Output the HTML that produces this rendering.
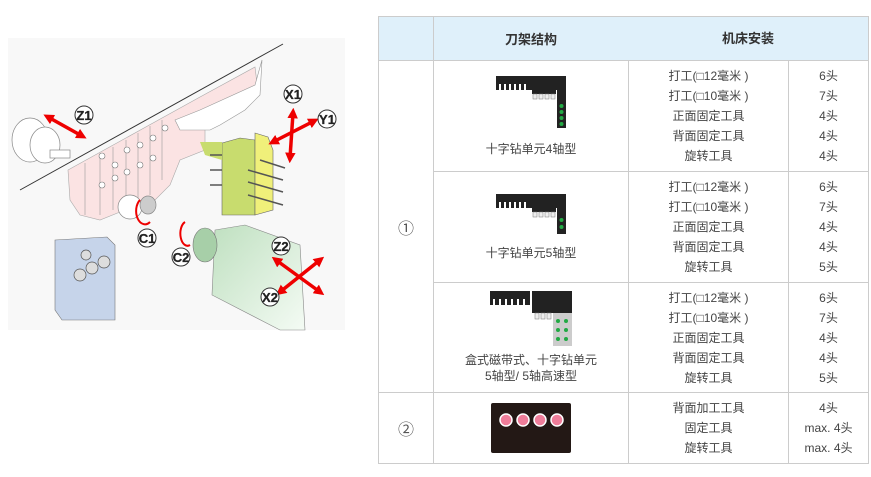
<!DOCTYPE html>
<html><head><meta charset="utf-8"><style>
body{margin:0;width:871px;height:477px;background:#fff;position:relative;overflow:hidden;font-family:"Liberation Sans","Noto Sans CJK SC",sans-serif;color:#444;}
table{position:absolute;left:378px;top:16px;border-collapse:collapse;font-size:12px;}
td,th{border:1px solid #ccc;text-align:center;padding:0;}
th{background:#dff0fa;font-weight:bold;color:#333;font-size:13px;height:43px;}
.l{line-height:20px;}
.n{font-size:16px;color:#555;}
</style></head><body>
<svg width="350" height="340" style="position:absolute;left:0;top:20px" viewBox="0 20 350 340">
<defs>
<marker id="a" viewBox="0 0 10 10" refX="5" refY="5" markerWidth="3" markerHeight="3" orient="auto-start-reverse"><path d="M0,0 L10,5 L0,10z" fill="#e00"/></marker>
<linearGradient id="g" x1="0" x2="1" y1="0" y2="1"><stop offset="0" stop-color="#bfe0c0"/><stop offset="1" stop-color="#f4fbf4"/></linearGradient>
</defs>
<rect x="8" y="38" width="337" height="292" fill="#f8f8f8"/>
<polygon points="68,170 200,97 255,67 258,92 205,120 205,150 180,160 170,185 150,205 120,212 100,220 80,215 70,200" fill="#fbe3e3" stroke="#aaa" stroke-width="0.6"/>
<g stroke="#999" stroke-width="0.6" fill="none">
<line x1="85" y1="163" x2="85" y2="215"/><line x1="100" y1="155" x2="100" y2="215"/><line x1="113" y1="147" x2="113" y2="210"/><line x1="126" y1="140" x2="126" y2="205"/><line x1="138" y1="133" x2="138" y2="200"/><line x1="150" y1="126" x2="150" y2="195"/><line x1="162" y1="120" x2="162" y2="180"/>
</g>
<g fill="#fff" stroke="#777" stroke-width="0.6">
<circle cx="102" cy="156" r="3"/><circle cx="115" cy="165" r="3"/><circle cx="127" cy="150" r="3"/><circle cx="140" cy="145" r="3"/><circle cx="153" cy="138" r="3"/><circle cx="165" cy="128" r="3"/><circle cx="102" cy="185" r="3"/><circle cx="115" cy="178" r="3"/><circle cx="127" cy="172" r="3"/><circle cx="140" cy="165" r="3"/><circle cx="153" cy="158" r="3"/>
</g>
<line x1="20" y1="190" x2="283" y2="44" stroke="#333" stroke-width="1"/>
<polygon points="175,120 200,110 255,85 262,60 260,95 245,110 220,125 210,130 180,130" fill="#fff" stroke="#999" stroke-width="0.6"/>
<g fill="#fff" stroke="#888" stroke-width="0.7"><ellipse cx="30" cy="140" rx="18" ry="22"/><ellipse cx="45" cy="145" rx="15" ry="18"/><rect x="50" y="150" width="20" height="8"/></g>
<g fill="#fff" stroke="#888" stroke-width="0.7"><ellipse cx="130" cy="207" rx="12" ry="12"/><ellipse cx="148" cy="205" rx="8" ry="9" fill="#ccc"/></g>
<polygon points="222,143 240,138 255,140 255,215 222,215" fill="#c8dc6e" stroke="#666" stroke-width="0.6"/>
<polygon points="255,133 268,137 273,150 273,210 255,215" fill="#f0f07a" stroke="#666" stroke-width="0.6"/>
<polygon points="200,142 222,142 222,160 205,155" fill="#c8dc6e"/>
<g stroke="#555" stroke-width="1.5"><line x1="210" y1="155" x2="222" y2="155"/><line x1="210" y1="170" x2="222" y2="170"/><line x1="210" y1="185" x2="222" y2="185"/><line x1="248" y1="170" x2="283" y2="180"/><line x1="248" y1="182" x2="283" y2="192"/><line x1="248" y1="195" x2="283" y2="205"/><line x1="260" y1="160" x2="285" y2="168"/></g>
<polygon points="55,240 107,237 115,245 115,320 62,320 55,310" fill="#c6d4ea" stroke="#777" stroke-width="0.6"/>
<g fill="#ddd" stroke="#555" stroke-width="0.7"><circle cx="80" cy="275" r="6"/><circle cx="92" cy="268" r="6"/><circle cx="104" cy="262" r="6"/><circle cx="86" cy="255" r="5"/></g>
<polygon points="215,230 245,225 300,245 305,330 280,330 212,295" fill="url(#g)" stroke="#888" stroke-width="0.6"/>
<ellipse cx="205" cy="245" rx="12" ry="17" fill="#a7cfa8" stroke="#777" stroke-width="0.6"/>
<g stroke="#e00" stroke-width="3.5" marker-start="url(#a)" marker-end="url(#a)">
<line x1="48" y1="117" x2="82" y2="136"/><line x1="293" y1="113" x2="290" y2="158"/><line x1="273" y1="142" x2="314" y2="121"/><line x1="276" y1="260" x2="320" y2="292"/><line x1="280" y1="292" x2="320" y2="260"/>
</g>
<g fill="none" stroke="#e00" stroke-width="2"><path d="M140 200 A8 12 0 1 0 150 222"/><path d="M185 222 A7 12 0 1 0 190 245"/></g>
<g font-size="13" font-weight="bold" fill="#222" text-anchor="middle" stroke="#222" stroke-width="0.3">
<g fill="#fff" stroke="#333" stroke-width="1"><circle cx="84" cy="115" r="9"/><circle cx="293" cy="94" r="9"/><circle cx="327" cy="119" r="9"/><circle cx="147" cy="238" r="9"/><circle cx="181" cy="257" r="9"/><circle cx="281" cy="246" r="9"/><circle cx="270" cy="297" r="9"/></g>
<text x="84" y="120">Z1</text><text x="293" y="99">X1</text><text x="327" y="124">Y1</text><text x="147" y="243">C1</text><text x="181" y="262">C2</text><text x="281" y="251">Z2</text><text x="270" y="302">X2</text>
</g>
</svg>
<table>
<tr><th style="width:54px"></th><th style="width:194px">刀架结构</th><th style="width:159px">机床安装</th><th style="width:79px">机床安装</th></tr>
<tr style="height:111px"><td rowspan="3" class="n">①</td><td><svg width="70" height="52" style="display:block;margin:0 auto"><rect x="0" y="0" width="70" height="14" fill="#222"/><g fill="#fff"><rect x="3" y="8" width="2" height="14"/><rect x="8" y="8" width="2" height="14"/><rect x="13" y="8" width="2" height="14"/><rect x="18" y="8" width="2" height="14"/><rect x="23" y="8" width="2" height="14"/><rect x="28" y="8" width="2" height="14"/></g><rect x="36" y="0" width="24" height="18" fill="#222"/><g fill="#eee" stroke="#777" stroke-width="0.5"><rect x="37" y="18" width="4" height="5"/><rect x="43" y="18" width="4" height="5"/><rect x="49" y="18" width="4" height="5"/><rect x="55" y="18" width="4" height="5"/></g><rect x="61" y="0" width="9" height="52" fill="#222"/><g fill="#22aa44"><circle cx="65.5" cy="30" r="2"/><circle cx="65.5" cy="36" r="2"/><circle cx="65.5" cy="42" r="2"/><circle cx="65.5" cy="48" r="2"/></g></svg><div style="margin-top:12px">十字钻单元4轴型</div></td><td class="l">打工(□12毫米 )<br>打工(□10毫米 )<br>正面固定工具<br>背面固定工具<br>旋转工具</td><td class="l">6头<br>7头<br>4头<br>4头<br>4头</td></tr>
<tr style="height:111px"><td><svg width="70" height="40" style="display:block;margin:0 auto"><rect x="0" y="0" width="70" height="14" fill="#222"/><g fill="#fff"><rect x="3" y="8" width="2" height="14"/><rect x="8" y="8" width="2" height="14"/><rect x="13" y="8" width="2" height="14"/><rect x="18" y="8" width="2" height="14"/><rect x="23" y="8" width="2" height="14"/><rect x="28" y="8" width="2" height="14"/></g><rect x="36" y="0" width="24" height="18" fill="#222"/><g fill="#eee" stroke="#777" stroke-width="0.5"><rect x="37" y="18" width="4" height="5"/><rect x="43" y="18" width="4" height="5"/><rect x="49" y="18" width="4" height="5"/><rect x="55" y="18" width="4" height="5"/></g><rect x="61" y="0" width="9" height="40" fill="#222"/><g fill="#22aa44"><circle cx="65.5" cy="26" r="2"/><circle cx="65.5" cy="33" r="2"/></g></svg><div style="margin-top:10px">十字钻单元5轴型</div></td><td class="l">打工(□12毫米 )<br>打工(□10毫米 )<br>正面固定工具<br>背面固定工具<br>旋转工具</td><td class="l">6头<br>7头<br>4头<br>4头<br>5头</td></tr>
<tr style="height:110px"><td><svg width="82" height="55" style="display:block;margin:0 auto"><rect x="0" y="0" width="40" height="14" fill="#222"/><g fill="#fff"><rect x="3" y="8" width="2" height="14"/><rect x="9" y="8" width="2" height="14"/><rect x="15" y="8" width="2" height="14"/><rect x="21" y="8" width="2" height="14"/><rect x="27" y="8" width="2" height="14"/><rect x="33" y="8" width="2" height="14"/></g><rect x="42" y="0" width="40" height="22" fill="#222"/><g fill="#eee" stroke="#777" stroke-width="0.5"><rect x="45" y="22" width="4" height="6"/><rect x="51" y="22" width="4" height="6"/><rect x="57" y="22" width="4" height="6"/></g><rect x="63" y="22" width="19" height="33" fill="#ccc"/><g fill="#22aa44"><circle cx="68" cy="30" r="2"/><circle cx="76" cy="30" r="2"/><circle cx="68" cy="39" r="2"/><circle cx="76" cy="39" r="2"/><circle cx="68" cy="48" r="2"/><circle cx="76" cy="48" r="2"/></g></svg><div style="margin-top:6px;line-height:16px">盒式磁带式、十字钻单元<br>5轴型/ 5轴高速型</div></td><td class="l">打工(□12毫米 )<br>打工(□10毫米 )<br>正面固定工具<br>背面固定工具<br>旋转工具</td><td class="l">6头<br>7头<br>4头<br>4头<br>5头</td></tr>
<tr style="height:71px"><td class="n">②</td><td><svg width="80" height="50" style="display:block;margin:0 auto"><rect width="80" height="50" rx="2" fill="#231815"/><g fill="#ef7d9a" stroke="#fff" stroke-width="1.5"><circle cx="15" cy="17" r="6"/><circle cx="32" cy="17" r="6"/><circle cx="49" cy="17" r="6"/><circle cx="66" cy="17" r="6"/></g></svg></td><td class="l">背面加工工具<br>固定工具<br>旋转工具</td><td class="l">4头<br>max. 4头<br>max. 4头</td></tr>
</table>
<div style="position:absolute;left:628px;top:17px;width:240px;height:43px;background:#dff0fa;font-weight:bold;font-size:13px;color:#333;line-height:43px;text-align:center">机床安装</div>
</body></html>
